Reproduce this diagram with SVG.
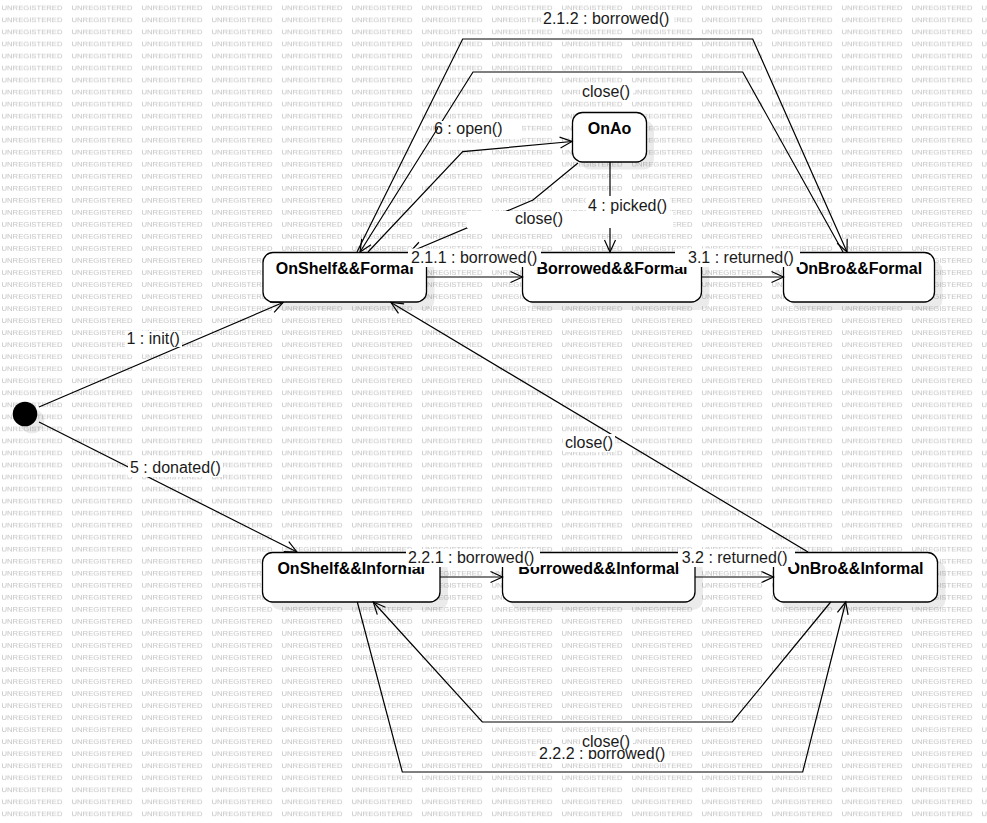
<svg xmlns="http://www.w3.org/2000/svg" width="987" height="823" viewBox="0 0 987 823">
<defs>
<pattern id="wm" x="0" y="0" width="70" height="12.03" patternUnits="userSpaceOnUse">
<text x="1.5" y="9.8" font-family="Liberation Sans, Arial, sans-serif" font-size="7.2" fill="#c2c2c2" textLength="61" lengthAdjust="spacingAndGlyphs">UNREGISTERED</text>
</pattern>
<marker id="arr" markerUnits="userSpaceOnUse" markerWidth="16" markerHeight="14" refX="13" refY="7" orient="auto">
<path d="M1,1.5 L13,7 L1,12.5" fill="none" stroke="#000" stroke-width="1.2"/>
</marker>
<style>
.node{fill:#fff;stroke:#000;stroke-width:1.3}
.shadow{fill:#000;opacity:0.08}
.nl{font-family:"Liberation Sans",Arial,sans-serif;font-size:16px;font-weight:bold;fill:#000;text-anchor:middle}
.edge{fill:none;stroke:#000;stroke-width:1.2;marker-end:url(#arr)}
.el{font-family:"Liberation Sans",Arial,sans-serif;font-size:16px;fill:#1a1a1a}
.lb{fill:#fff}
</style>
</defs>
<rect width="987" height="823" fill="#fff"/>
<rect width="987" height="823" fill="url(#wm)"/>

<g id="initial">
<circle class="shadow" cx="32" cy="421" r="12.3"/>
<circle cx="25" cy="414" r="12.3" fill="#000"/>
</g>
<g id="OnAo">
<rect class="shadow" x="580" y="120" width="74" height="49.5" rx="10"/>
<rect class="node" x="572.5" y="112.5" width="74" height="49.5" rx="10"/>
<text class="nl" x="609.5" y="134">OnAo</text>
</g>
<g id="OnShelfFormal">
<rect class="shadow" x="271" y="260.5" width="163.5" height="49.5" rx="10"/>
<rect class="node" x="263" y="252.5" width="163.5" height="49.5" rx="10"/>
<text class="nl" x="344.7" y="274">OnShelf&amp;&amp;Formal</text>
</g>
<g id="BorrowedFormal">
<rect class="shadow" x="530.5" y="260.5" width="179" height="49.5" rx="10"/>
<rect class="node" x="522.5" y="252.5" width="179" height="49.5" rx="10"/>
<text class="nl" x="612" y="274">Borrowed&amp;&amp;Formal</text>
</g>
<g id="OnBroFormal">
<rect class="shadow" x="791.5" y="260.5" width="151" height="49.5" rx="10"/>
<rect class="node" x="783.5" y="252.5" width="151" height="49.5" rx="10"/>
<text class="nl" x="859" y="274">OnBro&amp;&amp;Formal</text>
</g>
<g id="OnShelfInformal">
<rect class="shadow" x="270.5" y="560.5" width="177.5" height="49.5" rx="10"/>
<rect class="node" x="262.5" y="552.5" width="177.5" height="49.5" rx="10"/>
<text class="nl" x="351.2" y="574">OnShelf&amp;&amp;Informal</text>
</g>
<g id="BorrowedInformal">
<rect class="shadow" x="510.5" y="560.5" width="192.5" height="49.5" rx="10"/>
<rect class="node" x="502.5" y="552.5" width="192.5" height="49.5" rx="10"/>
<text class="nl" x="598.8" y="574">Borrowed&amp;&amp;Informal</text>
</g>
<g id="OnBroInformal">
<rect class="shadow" x="781.5" y="560.5" width="164" height="49.5" rx="10"/>
<rect class="node" x="773.5" y="552.5" width="164" height="49.5" rx="10"/>
<text class="nl" x="855.5" y="574">OnBro&amp;&amp;Informal</text>
</g>

<g id="connectors">
<path class="edge" d="M39,407 L283,302.5"/>
<path class="edge" d="M39,422 L297,552"/>
<path class="edge" d="M368,252 L462.7,151.7 L572,141.5"/>
<path class="edge" d="M578,163 L533,200 L410,252"/>
<path class="edge" d="M610,162 L610,252"/>
<path class="edge" d="M426.5,277 L522.5,277"/>
<path class="edge" d="M701.5,277 L783.5,277"/>
<path class="edge" d="M357,252 L462.7,39 L752.7,39 L847,252"/>
<path class="edge" d="M843,252 L742.7,72 L473,72 L360,252"/>
<path class="edge" d="M808,552 L391,302.5"/>
<path class="edge" d="M440,577 L502.5,577"/>
<path class="edge" d="M695,577 L773.5,577"/>
<path class="edge" d="M830.7,602 L732.3,722 L482.3,722 L373.3,602"/>
<path class="edge" d="M357.3,602 L402.3,772 L802.7,772 L845.7,602"/>
</g>

<g id="labels">
<rect class="lb" x="125" y="331" width="57" height="16"/>
<text class="el" x="126.5" y="344">1 : init()</text>
<rect class="lb" x="128" y="459" width="95" height="18"/>
<text class="el" x="130" y="473">5 : donated()</text>
<rect class="lb" x="438" y="121" width="84" height="18"/>
<text class="el" x="434" y="134">6 : open()</text>
<rect class="lb" x="467" y="211" width="206" height="17"/>
<text class="el" x="515" y="224">close()</text>
<rect class="lb" x="586" y="196" width="84" height="18"/>
<text class="el" x="588" y="211">4 : picked()</text>
<rect class="lb" x="408" y="248.5" width="133" height="18.5"/>
<text class="el" x="411" y="263">2.1.1 : borrowed()</text>
<rect class="lb" x="675" y="248.5" width="125" height="18.5"/>
<text class="el" x="688" y="263">3.1 : returned()</text>
<rect class="lb" x="541" y="10" width="133" height="18"/>
<text class="el" x="543" y="24">2.1.2 : borrowed()</text>
<rect class="lb" x="580" y="83" width="53" height="18"/>
<text class="el" x="582" y="97">close()</text>
<rect class="lb" x="563" y="434" width="52" height="18"/>
<text class="el" x="565" y="448">close()</text>
<rect class="lb" x="406" y="549" width="134" height="18"/>
<text class="el" x="408" y="563.3">2.2.1 : borrowed()</text>
<rect class="lb" x="678" y="549" width="117" height="18"/>
<text class="el" x="681.7" y="563.3">3.2 : returned()</text>
<rect class="lb" x="537" y="745" width="132" height="18"/>
<text class="el" x="539" y="759">2.2.2 : borrowed()</text>
<rect class="lb" x="580" y="733" width="53" height="17"/>
<text class="el" x="582" y="747">close()</text>
</g>
</svg>
